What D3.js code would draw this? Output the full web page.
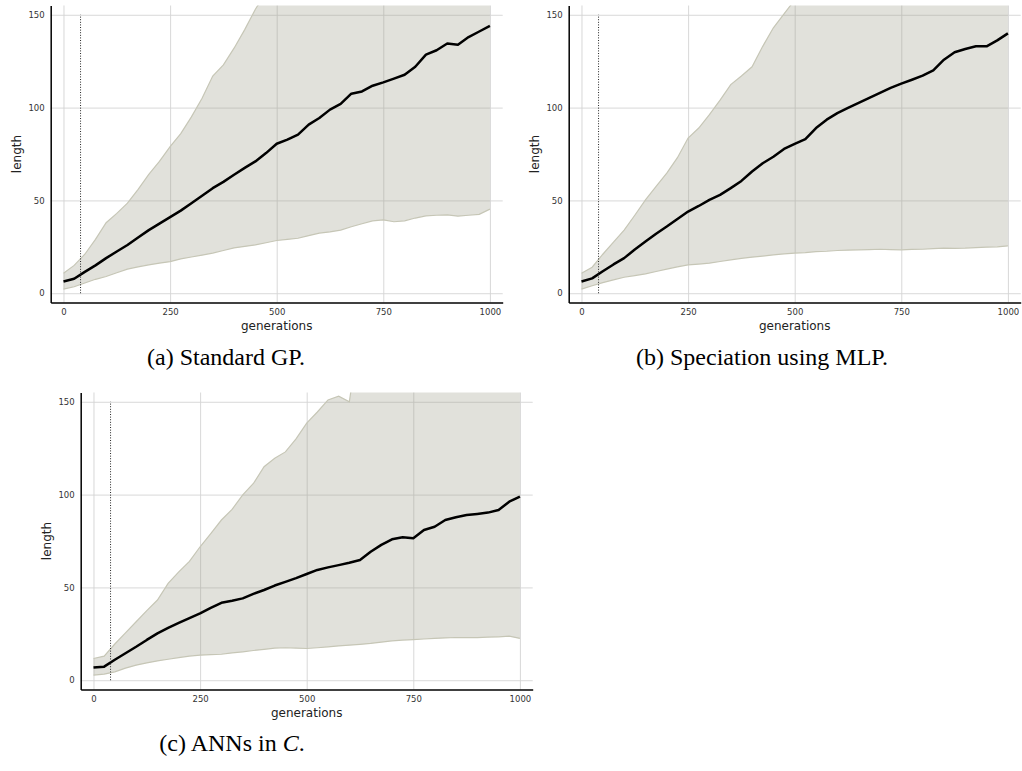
<!DOCTYPE html>
<html>
  <head>
    <meta charset="utf-8">
    <style>
      body { margin: 0; background: #fff; }
    </style>
    <title>Program length</title>
  </head>
  <body>

  <div id="viz-wrapper"></div>

  <script src="https://cdnjs.cloudflare.com/ajax/libs/d3/7.8.5/d3.min.js" charset="utf-8"></script>
  <script type="text/javascript">

    // generations sampled every 25
    var gens = [0, 25, 50, 75, 100, 125, 150, 175, 200, 225, 250, 275, 300, 325, 350, 375, 400,
                425, 450, 475, 500, 525, 550, 575, 600, 625, 650, 675, 700, 725, 750, 775, 800,
                825, 850, 875, 900, 925, 950, 975, 1000];

    // (a) standard GP
    var meanA = [6.3, 7.8, 11.5, 15, 18.9, 22.5, 26, 30, 34, 37.5, 41, 44.5, 48.5, 52.5, 56.6, 60, 63.8,
                 67.5, 71, 75.5, 80.5, 82.7, 85.4, 90.8, 94.4, 98.9, 102, 107.5, 108.7, 111.8, 113.6, 115.6, 117.7,
                 122, 128.5, 130.9, 134.5, 133.9, 138, 141, 144];
    var upperA = [10.8, 15, 21, 29, 38, 43, 48.5, 56, 64, 71, 79, 86, 95, 105, 117, 123, 132,
                  142, 153, 162, 170, 178, 185, 192, 198, 205, 211, 218, 224, 230, 236, 242, 248,
                  254, 260, 266, 272, 278, 284, 290, 296];
    var lowerA = [2.2, 3.5, 5.5, 7.5, 9, 11, 13, 14.2, 15.3, 16.2, 17, 18.5, 19.5, 20.5, 21.6, 23, 24.4,
                  25.2, 26, 27.2, 28.4, 29, 29.6, 31, 32.4, 33, 34, 35.8, 37.4, 39, 39.5, 38.5, 39,
                  40.5, 41.7, 42, 42.2, 41.5, 42, 42.5, 45.3];

    // (b) speciation using MLP
    var meanB = [6.3, 8, 11.8, 15.5, 18.9, 23.5, 27.8, 32, 35.9, 40, 44, 47, 50.3, 53, 56.6, 60.5, 65.6,
                 70, 73.5, 77.7, 80.5, 83, 89, 93.5, 97, 99.8, 102.5, 105.2, 107.9, 110.6, 112.9, 115, 117.2,
                 120.1, 125.8, 129.8, 131.6, 133, 133, 136.2, 140];
    var upperB = [10.8, 14, 21, 27.5, 34, 42, 50.3, 57.5, 64.7, 73, 83.6, 89, 96.2, 104, 112.4, 117, 122,
                  133, 143, 150.5, 158, 166, 173, 180, 186, 192, 198, 204, 210, 215, 220, 226, 231,
                  236, 241, 246, 251, 256, 261, 266, 271];
    var lowerB = [2.2, 4, 5.7, 7.2, 8.6, 9.5, 10.4, 11.7, 13, 14.2, 15.3, 15.7, 16.2, 17.1, 18, 18.8, 19.4,
                  20, 20.7, 21.2, 21.6, 21.9, 22.4, 22.6, 23, 23.2, 23.4, 23.5, 23.7, 23.5, 23.4, 23.6, 23.7,
                  24, 24.3, 24.2, 24.3, 24.6, 24.8, 25, 25.5];

    // (c) ANNs in C
    var meanC = [6.8, 7.3, 11, 14.5, 18, 21.7, 25.2, 28.2, 30.9, 33.5, 36, 39, 41.7, 42.8, 44.1, 46.5, 48.6,
                 51, 53, 55, 57.2, 59.4, 60.8, 62, 63.3, 64.8, 69.2, 72.9, 75.9, 77, 76.5, 80.9, 82.7,
                 86.3, 87.8, 89, 89.6, 90.3, 91.7, 96.2, 98.9];
    var upperC = [11.7, 13, 19.5, 25.5, 31.5, 37.5, 43.2, 52.2, 58.4, 64, 71.9, 79, 86.3, 92, 99.8, 106, 115,
                  119.6, 123, 130, 138.5, 144.5, 151, 153, 150, 190, 196, 202, 208, 214, 220, 226, 232,
                  238, 244, 250, 256, 262, 268, 274, 280];
    var lowerC = [2.7, 3.3, 4.5, 6.5, 8.1, 9.3, 10.4, 11.3, 12.2, 13, 13.5, 13.8, 14, 14.7, 15.3, 16, 16.6,
                  17.3, 17.5, 17.3, 17.1, 17.5, 18, 18.5, 18.9, 19.3, 19.8, 20.5, 21.2, 21.6, 21.9, 22.2, 22.5,
                  22.8, 23, 23, 23, 23.2, 23.4, 23.7, 22.5];

    var xTicks = [0, 250, 500, 750, 1000];
    var yTicks = [0, 50, 100, 150];
    var markerGen = 40;

    var width = 1022;
    var height = 771;
    var plotW = 452;
    var plotH = 297;

    var viz = d3.select("#viz-wrapper")
                .append('svg')
                .attr('width', width)
                .attr('height', height)
                .style('display', 'block');

    var panels = [
      {id: 'a', left: 50.7, top: 5.5, mean: meanA, upper: upperA, lower: lowerA,
       caption: [["(a) Standard GP.", 'normal']], capX: 226, capY: 365},
      {id: 'b', left: 568.7, top: 5.5, mean: meanB, upper: upperB, lower: lowerB,
       caption: [["(b) Speciation using MLP.", 'normal']], capX: 762, capY: 365},
      {id: 'c', left: 80.7, top: 392.5, mean: meanC, upper: upperC, lower: lowerC,
       caption: [["(c) ANNs in ", 'normal'], ["C", 'italic'], [".", 'normal']], capX: 232, capY: 751}
    ];

    function drawPanel(p) {
      var x = d3.scaleLinear().domain([-30, 1030]).range([0, plotW]);
      var y = d3.scaleLinear().domain([-5, 155]).range([plotH, 0]);

      var g = viz.append('g').attr('transform', 'translate(' + p.left + ',' + p.top + ')');

      g.append('clipPath').attr('id', 'clip-' + p.id)
        .append('rect').attr('width', plotW).attr('height', plotH);

      // grid
      var gx = g.append('g')
        .attr('transform', 'translate(0,' + plotH + ')')
        .call(d3.axisBottom(x).tickValues(xTicks).tickSize(-plotH).tickFormat(''));
      var gy = g.append('g')
        .call(d3.axisLeft(y).tickValues(yTicks).tickSize(-plotW).tickFormat(''));
      [gx, gy].forEach(function(s) {
        s.select('.domain').remove();
        s.selectAll('line').style('stroke', '#d4d4d4').style('stroke-width', 0.9);
      });

      var pts = gens.map(function(gen, i) {
        return {g: gen, m: p.mean[i], u: p.upper[i], l: p.lower[i]};
      });

      var band = g.append('g').attr('clip-path', 'url(#clip-' + p.id + ')');

      band.append('path')
        .datum(pts)
        .attr('d', d3.area().x(function(d) { return x(d.g); })
                            .y0(function(d) { return y(d.l); })
                            .y1(function(d) { return y(d.u); }))
        .style('fill', '#9c9c88')
        .style('fill-opacity', 0.3);

      ['u', 'l'].forEach(function(k) {
        band.append('path')
          .datum(pts)
          .attr('d', d3.line().x(function(d) { return x(d.g); }).y(function(d) { return y(d[k]); }))
          .style('fill', 'none')
          .style('stroke', '#c6c6b6')
          .style('stroke-width', 1.2);
      });

      // marker at generation 40
      g.append('line')
        .attr('x1', x(markerGen)).attr('x2', x(markerGen))
        .attr('y1', y(0)).attr('y2', y(150))
        .style('stroke', '#222')
        .style('stroke-width', 1)
        .style('stroke-dasharray', '1,1.6');

      band.append('path')
        .datum(pts)
        .attr('d', d3.line().x(function(d) { return x(d.g); }).y(function(d) { return y(d.m); }))
        .style('fill', 'none')
        .style('stroke', '#000')
        .style('stroke-width', 2.5)
        .style('stroke-linejoin', 'round');

      // axes
      var ax = g.append('g')
        .attr('transform', 'translate(0,' + plotH + ')')
        .call(d3.axisBottom(x).tickValues(xTicks).tickFormat(d3.format('d'))
                .tickSize(0).tickSizeOuter(0).tickPadding(6));
      var ay = g.append('g')
        .call(d3.axisLeft(y).tickValues(yTicks).tickFormat(d3.format('d'))
                .tickSize(0).tickSizeOuter(0).tickPadding(6));
      [ax, ay].forEach(function(s) {
        s.select('.domain').style('stroke', '#000').style('stroke-width', 1.5);
        s.selectAll('text')
          .style('font-family', '"DejaVu Sans", sans-serif')
          .style('font-size', '8.5px')
          .style('fill', '#333');
      });

      g.append('text')
        .attr('x', plotW / 2)
        .attr('y', plotH + 27)
        .attr('text-anchor', 'middle')
        .style('font-family', '"DejaVu Sans", sans-serif')
        .style('font-size', '12px')
        .style('fill', '#222')
        .text('generations');

      g.append('text')
        .attr('transform', 'translate(' + (-30) + ',' + (plotH / 2) + ') rotate(-90)')
        .attr('text-anchor', 'middle')
        .style('font-family', '"DejaVu Sans", sans-serif')
        .style('font-size', '12px')
        .style('fill', '#222')
        .text('length');

      var cap = viz.append('text')
        .attr('x', p.capX)
        .attr('y', p.capY)
        .attr('text-anchor', 'middle')
        .style('font-family', '"Liberation Serif", serif')
        .style('font-size', '24px')
        .style('fill', '#000');
      p.caption.forEach(function(c) {
        cap.append('tspan').style('font-style', c[1]).text(c[0]);
      });
    }

    panels.forEach(drawPanel);

  </script>
  </body>
</html>
